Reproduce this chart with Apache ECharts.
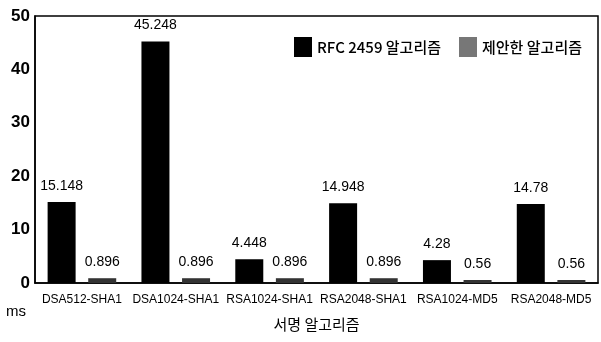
<!DOCTYPE html>
<html><head><meta charset="utf-8">
<script src="https://cdn.jsdelivr.net/npm/echarts@6/dist/echarts.min.js"></script>
<style>html,body{margin:0;padding:0;background:#fff}#c{width:601px;height:342px}</style>
</head><body><div id="c"></div>
<script>
const categories = ['DSA512-SHA1','DSA1024-SHA1','RSA1024-SHA1','RSA2048-SHA1','RSA1024-MD5','RSA2048-MD5'];
const rfcValues = [15.148, 45.248, 4.448, 14.948, 4.28, 14.78];
const proposedValues = [0.896, 0.896, 0.896, 0.896, 0.56, 0.56];
const seriesNames = ['RFC 2459 알고리즘', '제안한 알고리즘'];
const yTicks = [0, 10, 20, 30, 40, 50];

const narrow = "'Liberation Sans Narrow', 'Arial Narrow', 'Liberation Sans', sans-serif";
const kr = "'Noto Sans CJK KR', sans-serif";
const chart = echarts.init(document.getElementById('c'), null, {renderer:'canvas'});
const labelStyle = {show:true, position:'top', distance:9, color:'#000', fontFamily:narrow, fontSize:14};
chart.setOption({
  animation:false,
  grid:{left:35, right:3, top:16, bottom:59, show:true, borderColor:'#000', borderWidth:1.5},
  legend:{
    right:14, top:32, itemWidth:18, itemHeight:20, itemGap:18, icon:'rect',
    textStyle:{fontFamily:kr, fontSize:15, fontWeight:'500', color:'#000'},
    data:[
      {name:seriesNames[0], itemStyle:{color:'#000'}},
      {name:seriesNames[1], itemStyle:{color:'#777'}}
    ]
  },
  xAxis:{
    type:'category', data:categories,
    name:'서명 알고리즘', nameLocation:'middle', nameGap:34,
    nameTextStyle:{fontFamily:kr, fontSize:15, color:'#000'},
    axisLine:{lineStyle:{color:'#000', width:1.5}},
    axisTick:{show:false},
    axisLabel:{fontFamily:narrow, fontSize:12, color:'#000', margin:11, interval:0}
  },
  yAxis:{
    type:'value', min:yTicks[0], max:yTicks[yTicks.length-1], interval:10,
    axisLine:{show:true, lineStyle:{color:'#000', width:1.5}},
    axisTick:{show:false},
    splitLine:{show:false},
    axisLabel:{fontFamily:narrow, fontSize:17, fontWeight:'bold', color:'#000', margin:5}
  },
  graphic:[{type:'text', left:6, top:304, style:{text:'ms', font:"15px "+narrow, fill:'#000'}}],
  series:[
    {name:seriesNames[0], type:'bar', data:rfcValues, barWidth:28, barGap:'45%',
     itemStyle:{color:'#000'}, label:labelStyle},
    {name:seriesNames[1], type:'bar', data:proposedValues, barWidth:28,
     itemStyle:{color:'#333'}, label:labelStyle}
  ]
});
</script></body></html>
